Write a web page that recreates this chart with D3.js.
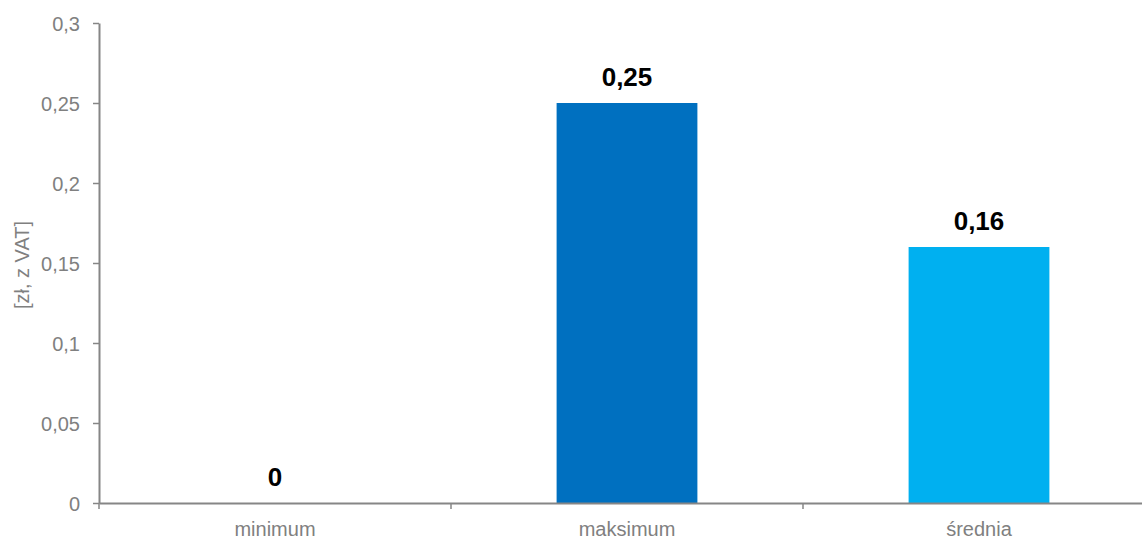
<!DOCTYPE html>
<html><head><meta charset="utf-8">
<script src="https://cdn.jsdelivr.net/npm/d3@7"></script>
<style>body{margin:0;background:#fff}svg{display:block}text{font-family:"Liberation Sans",Arial,sans-serif}</style>
</head><body><svg id="c" width="1142" height="539"></svg>
<script>
const categories = ["minimum", "maksimum", "średnia"];
const values = [0, 0.25, 0.16];
const colors = ["#0070C0", "#0070C0", "#00B0F0"];
const yTicks = [0, 0.05, 0.1, 0.15, 0.2, 0.25, 0.3];
const yTitle = "[zł, z VAT]";

const svg = d3.select("#c");
const m = {left: 99, top: 23, bottom: 503, right: 1155};
const x = d3.scaleBand().domain(categories).range([m.left, m.right]).paddingInner(0).paddingOuter(0);
const y = d3.scaleLinear().domain([0, 0.3]).range([m.bottom, m.top]);
const fmt = d => String(d).replace(".", ",");
const axisColor = "#868686";
const ff = "Liberation Sans, Arial, sans-serif";

// bars
svg.selectAll("rect.bar").data(values).join("rect")
  .attr("x", (d,i) => x(categories[i]) + x.bandwidth()*0.3)
  .attr("width", x.bandwidth()*0.4)
  .attr("y", d => y(d))
  .attr("height", d => y(0) - y(d))
  .attr("fill", (d,i) => colors[i]);

// y axis
const ya = svg.append("g").attr("transform", `translate(${m.left},0)`)
  .call(d3.axisLeft(y).tickValues(yTicks).tickFormat(fmt).tickSize(6).tickSizeOuter(0));
ya.select(".domain").attr("stroke", axisColor).attr("stroke-width", 2);
ya.selectAll(".tick line").attr("stroke", axisColor).attr("stroke-width", 1.5);
ya.selectAll(".tick text").attr("fill", "#808080").attr("font-size", 20).attr("x", -19).attr("dy", "0.36em")
  .style("font-family", ff);

// x axis
const xa = svg.append("g").attr("transform", `translate(0,${m.bottom})`)
  .call(d3.axisBottom(x).tickSize(0).tickSizeOuter(0));
xa.select(".domain").attr("stroke", axisColor).attr("stroke-width", 2);
xa.selectAll(".tick text").attr("fill", "#808080").attr("font-size", 20).attr("y", 33).attr("dy", 0)
  .style("font-family", ff);
// boundary ticks between categories
const bounds = categories.map(c => x(c)).concat([x(categories[categories.length-1]) + x.bandwidth()]);
svg.append("g").selectAll("line").data(bounds).join("line")
  .attr("x1", d => d).attr("x2", d => d)
  .attr("y1", m.bottom).attr("y2", m.bottom + 6)
  .attr("stroke", axisColor).attr("stroke-width", 1.5);

// value labels
svg.selectAll("text.val").data(values).join("text")
  .attr("class", "val")
  .attr("x", (d,i) => x(categories[i]) + x.bandwidth()/2)
  .attr("y", d => y(d) - 17)
  .attr("text-anchor", "middle")
  .attr("font-size", 26).attr("font-weight", "bold").attr("fill", "#000")
  .text(d => fmt(d));

// y title
svg.append("text")
  .attr("transform", `translate(29,${(m.top+m.bottom)/2 + 2}) rotate(-90)`)
  .attr("text-anchor", "middle")
  .attr("font-size", 20).attr("fill", "#808080")
  .text(yTitle);
</script></body></html>
